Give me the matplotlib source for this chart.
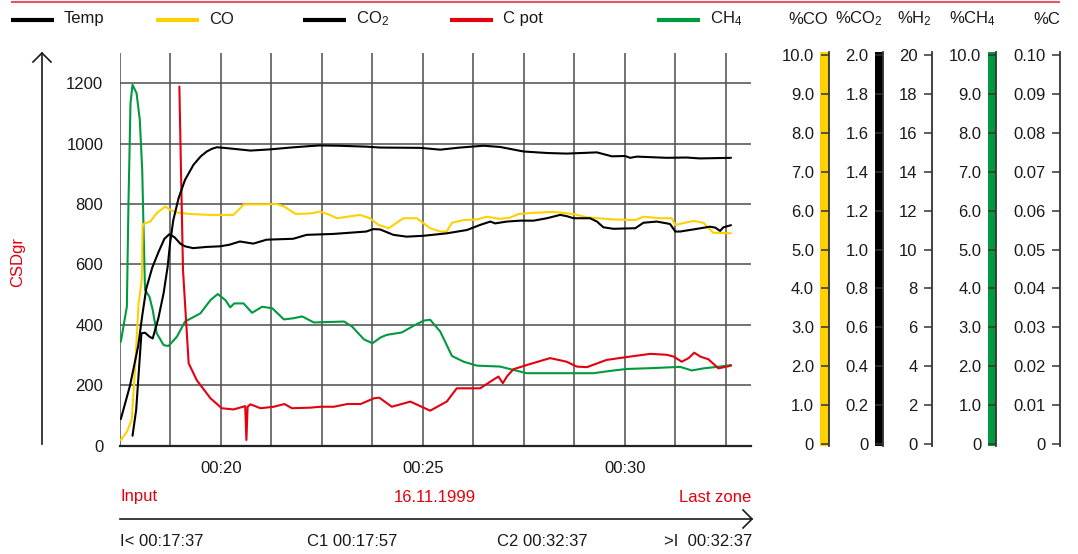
import matplotlib
matplotlib.use("Agg")
import matplotlib.pyplot as plt
from matplotlib.patches import Rectangle
from matplotlib.ticker import FixedLocator, FixedFormatter

FONT = "Liberation Sans"
plt.rcParams["font.family"] = [FONT, "DejaVu Sans"]
plt.rcParams["mathtext.fontset"] = "custom"
plt.rcParams["mathtext.rm"] = FONT
plt.rcParams["mathtext.it"] = FONT
plt.rcParams["mathtext.default"] = "rm"

# ---------------- data (time in minutes after 00:00) ----------------
temp_t = [17.81, 17.90, 17.98, 18.03, 18.12, 18.23, 18.31, 18.45, 18.58, 18.68, 18.74,
          18.82, 18.95, 19.11, 19.32, 19.50, 19.65, 19.78, 19.90, 20.15, 20.73, 21.22,
          21.72, 22.22, 22.45, 22.90, 23.60, 23.94, 24.93, 25.43, 25.92, 26.50, 26.91,
          27.49, 28.07, 28.56, 29.31, 29.68, 30.01, 30.13, 30.30, 31.04, 31.53, 31.86, 32.63]
temp_v = [33, 118, 273, 372, 374, 361, 355, 422, 505, 593, 670,
          747, 819, 880, 930, 958, 974, 983, 988, 985, 977, 981,
          987, 992, 994, 993, 990, 987, 986, 980, 987, 993, 989,
          974, 969, 967, 971, 958, 959, 953, 957, 953, 954, 951, 953]

co_t = [17.52, 17.67, 17.79, 17.87, 17.96, 18.04, 18.06, 18.08, 18.25, 18.41, 18.62,
        18.74, 18.91, 19.24, 19.74, 20.31, 20.44, 20.56, 21.06, 21.39, 21.56, 21.85,
        22.22, 22.45, 22.70, 22.87, 23.44, 23.69, 23.90, 24.15, 24.52, 24.85, 25.18,
        25.43, 25.59, 25.72, 26.01, 26.34, 26.58, 26.91, 27.16, 27.37, 27.74, 28.23,
        28.73, 29.06, 29.72, 30.26, 30.46, 30.87, 31.16, 31.25, 31.70, 31.95, 32.19, 32.63]
co_v = [19, 46, 85, 251, 471, 549, 725, 734, 742, 770, 792,
        781, 772, 767, 764, 764, 781, 799, 799, 800, 792, 767,
        769, 775, 764, 753, 764, 753, 731, 720, 753, 753, 720,
        709, 709, 738, 747, 749, 758, 751, 755, 767, 771, 774,
        767, 756, 749, 747, 758, 753, 753, 731, 744, 738, 705, 703]

co2_t = [17.52, 17.75, 17.95, 18.05, 18.15, 18.30, 18.45, 18.60, 18.72, 18.85, 19.00,
         19.11, 19.31, 19.64, 19.97, 20.20, 20.47, 20.80, 21.13, 21.79, 22.12, 22.78,
         23.60, 23.77, 23.94, 24.27, 24.60, 25.02, 25.59, 26.09, 26.42, 26.67, 26.79,
         27.08, 27.41, 27.74, 28.07, 28.40, 28.56, 28.73, 29.14, 29.31, 29.47, 29.72,
         30.26, 30.46, 30.79, 31.12, 31.25, 31.37, 31.70, 32.11, 32.24, 32.36, 32.44, 32.63]
co2_v = [88, 200, 330, 430, 520, 590, 640, 685, 700, 690, 668,
         660, 654, 658, 660, 665, 676, 669, 682, 685, 698, 701,
         709, 717, 716, 698, 692, 695, 703, 714, 731, 742, 736,
         742, 745, 745, 753, 764, 760, 753, 753, 742, 723, 718,
         720, 738, 742, 734, 709, 709, 716, 725, 722, 711, 723, 730]

cpot_t = [18.97, 19.01, 19.06, 19.14, 19.20, 19.40, 19.74, 20.02, 20.31, 20.60, 20.63,
          20.66, 20.73, 20.98, 21.31, 21.57, 21.76, 22.22, 22.47, 22.80, 23.13, 23.46,
          23.79, 23.92, 24.23, 24.69, 25.18, 25.59, 25.84, 26.42, 26.67, 26.87, 26.98,
          27.08, 27.24, 27.57, 28.15, 28.56, 28.81, 29.06, 29.55, 30.13, 30.63, 31.04,
          31.21, 31.41, 31.58, 31.72, 31.87, 32.07, 32.32, 32.63]
cpot_v = [1189, 913, 582, 405, 273, 217, 157, 124, 120, 131, 19,
          129, 137, 124, 129, 138, 124, 126, 129, 129, 138, 138,
          157, 159, 129, 146, 116, 146, 190, 190, 212, 229, 207,
          229, 253, 267, 290, 278, 262, 260, 284, 295, 304, 301,
          295, 278, 290, 308, 295, 286, 256, 265]

ch4_t = [17.52, 17.67, 17.71, 17.76, 17.81, 17.91, 17.99, 18.05, 18.08, 18.12, 18.23,
         18.31, 18.41, 18.58, 18.70, 18.91, 19.11, 19.49, 19.74, 19.92, 20.11, 20.23,
         20.33, 20.56, 20.77, 21.02, 21.27, 21.56, 21.80, 22.01, 22.30, 23.05, 23.25,
         23.54, 23.75, 23.96, 24.11, 24.48, 24.77, 25.02, 25.18, 25.43, 25.72, 26.01,
         26.34, 26.91, 27.24, 27.57, 28.23, 29.22, 29.72, 30.05, 30.71, 31.37, 31.66,
         31.95, 32.36, 32.63]
ch4_v = [344, 460, 803, 1134, 1195, 1167, 1079, 913, 736, 516, 493,
         449, 372, 333, 330, 361, 411, 438, 482, 502, 482, 458,
         471, 471, 440, 460, 455, 418, 422, 428, 408, 411, 394,
         352, 339, 359, 367, 375, 397, 414, 417, 378, 297, 278,
         265, 262, 251, 240, 240, 240, 249, 254, 257, 261, 249,
         256, 262, 267]

y_ticks = [0, 200, 400, 600, 800, 1000, 1200]
x_tick_pos = [20, 25, 30]
x_tick_lab = ["00:20", "00:25", "00:30"]

scale_names = ["%CO", "%CO$_2$", "%H$_2$", "%CH$_4$", "%C"]
scale_labels = [
    ["0", "1.0", "2.0", "3.0", "4.0", "5.0", "6.0", "7.0", "8.0", "9.0", "10.0"],
    ["0", "0.2", "0.4", "0.6", "0.8", "1.0", "1.2", "1.4", "1.6", "1.8", "2.0"],
    ["0", "2", "4", "6", "8", "10", "12", "14", "16", "18", "20"],
    ["0", "1.0", "2.0", "3.0", "4.0", "5.0", "6.0", "7.0", "8.0", "9.0", "10.0"],
    ["0", "0.01", "0.02", "0.03", "0.04", "0.05", "0.06", "0.07", "0.08", "0.09", "0.10"],
]

legend_names = ["Temp", "CO", "CO$_2$", "C pot", "CH$_4$"]
bottom_info = ["I< 00:17:37", "C1 00:17:57", "C2 00:32:37", ">I  00:32:37"]

# ---------------- styling ----------------
W, H = 1078, 554
C_YEL = "#FFD100"
C_RED = "#E3000F"
C_GRN = "#009A3E"
C_BLK = "#000000"
C_TXT = "#1a1a1a"
C_GRID = "#4d4d4d"
FS = 12

fig = plt.figure(figsize=(W / 100, H / 100), dpi=100)
fig.patch.set_facecolor("white")


def fx(px):
    return px / W


def fy(py):
    return 1 - py / H


# overlay for decorations in pixel coordinates
ov = fig.add_axes([0, 0, 1, 1])
ov.set_xlim(0, W)
ov.set_ylim(H, 0)
ov.axis("off")
ov.patch.set_alpha(0)
ov.set_zorder(-1)

# ---------------- main plot ----------------
L, R, T, B = 120, 751, 53, 445.7
ax = fig.add_axes([fx(L), fy(B), fx(R) - fx(L), fy(T) - fy(B)])
ax.patch.set_alpha(0)
ax.set_xlim(17.5, 33.125)
ax.set_ylim(0, 1300)
for s in ["top", "right", "left"]:
    ax.spines[s].set_visible(False)
ax.spines["bottom"].set_color("#222222")
ax.spines["bottom"].set_linewidth(1.6)

grid_x = [17.5 + 1.25 * k for k in range(13)]
for gx in grid_x:
    ax.axvline(gx, color=C_GRID, lw=1.1, zorder=1)
for gy in y_ticks[1:]:
    ax.axhline(gy, color=C_GRID, lw=1.1, zorder=1)

ax.set_yticks(y_ticks)
ax.set_yticklabels([str(v) for v in y_ticks])
ax.set_xticks(x_tick_pos)
ax.set_xticklabels(x_tick_lab)
ax.tick_params(axis="y", length=0, pad=12, labelsize=FS, labelcolor=C_TXT)
ax.tick_params(axis="x", length=0, pad=11, labelsize=FS, labelcolor=C_TXT)

lw = 1.5
style = dict(lw=lw, solid_joinstyle="round", solid_capstyle="round")
ax.plot(ch4_t, ch4_v, color=C_GRN, zorder=3, **style)
ax.plot(co_t, co_v, color=C_YEL, zorder=3, **style)
ax.plot(cpot_t, cpot_v, color=C_RED, zorder=3, **style)
ax.plot(co2_t, co2_v, color=C_BLK, zorder=4, **style)
ax.plot(temp_t, temp_v, color=C_BLK, zorder=4, **style)

# ---------------- right scales ----------------
spines_x = [828.5, 883, 932, 996, 1060]
bar_colors = [C_YEL, C_BLK, None, C_GRN, None]
s_top, s_bot = 52.3, 445.7
for i, sx in enumerate(spines_x):
    sa = fig.add_axes([fx(sx), fy(s_bot), 0.001, fy(s_top) - fy(s_bot)])
    sa.patch.set_alpha(0)
    sa.set_ylim(-0.04, 10.07)
    sa.set_xlim(0, 1)
    for s in ["top", "right", "bottom"]:
        sa.spines[s].set_visible(False)
    sa.spines["left"].set_color("#333333")
    sa.spines["left"].set_linewidth(1.3)
    sa.set_xticks([])
    sa.yaxis.set_major_locator(FixedLocator(list(range(11))))
    sa.yaxis.set_major_formatter(FixedFormatter(scale_labels[i]))
    sa.tick_params(axis="y", direction="out", length=5.5, width=1.1, color="#333333",
                   pad=5, labelsize=FS, labelcolor=C_TXT)
    if bar_colors[i] is not None:
        ov.add_patch(Rectangle((sx - 8.5, s_top), 8.5, s_bot - s_top,
                               facecolor=bar_colors[i], edgecolor="none"))
    ov.text(sx, 19, scale_names[i], ha="right", va="center", fontsize=FS, color=C_TXT)

# ---------------- top decorations ----------------
ov.plot([11, 1060], [2, 2], color="#E85560", lw=1.5, solid_capstyle="butt")
leg_x = [11, 156, 303, 450, 657]
leg_colors = [C_BLK, C_YEL, C_BLK, C_RED, C_GRN]
for lx, lc, ln in zip(leg_x, leg_colors, legend_names):
    ov.plot([lx, lx + 43], [20, 20], color=lc, lw=3, solid_capstyle="butt")
    ov.text(lx + 53, 19, ln, ha="left", va="center", fontsize=FS, color=C_TXT)

# left vertical arrow and label
ov.plot([42, 42], [444, 53], color=C_TXT, lw=1.2)
ov.plot([33, 42, 51], [62, 53, 62], color=C_TXT, lw=1.2)
ov.text(18, 262, "CSDgr", rotation=90, ha="center", va="center", fontsize=FS, color=C_RED)

# bottom texts
ov.text(120, 497, "Input", ha="left", va="center", fontsize=FS, color=C_RED)
ov.text(435, 497, "16.11.1999", ha="center", va="center", fontsize=FS, color=C_RED)
ov.text(751, 497, "Last zone", ha="right", va="center", fontsize=FS, color=C_RED)
ov.plot([120, 752], [519, 519], color=C_TXT, lw=1.2)
ov.plot([743, 752, 743], [510, 519, 528], color=C_TXT, lw=1.2)
ov.text(120, 541, bottom_info[0], ha="left", va="center", fontsize=FS, color=C_TXT)
ov.text(307, 541, bottom_info[1], ha="left", va="center", fontsize=FS, color=C_TXT)
ov.text(497, 541, bottom_info[2], ha="left", va="center", fontsize=FS, color=C_TXT)
ov.text(752, 541, bottom_info[3], ha="right", va="center", fontsize=FS, color=C_TXT)

fig.savefig("out.png", dpi=100)
